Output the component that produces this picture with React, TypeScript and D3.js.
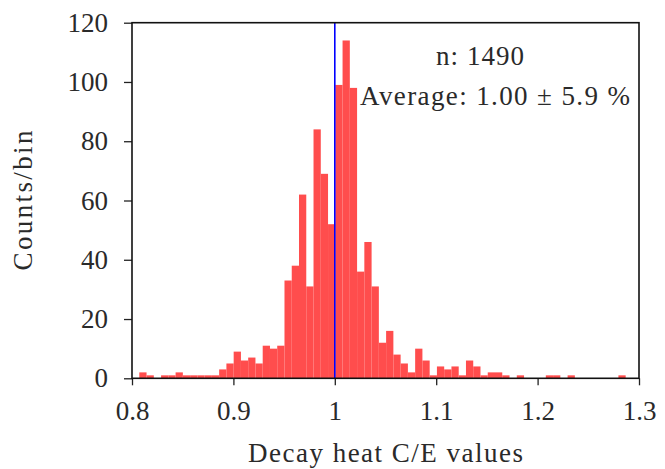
import React, { useEffect, useRef } from 'react'
import * as d3 from 'd3'

// histogram of C/E values
const binStart = 0.8072
const binWidth = 0.007159
const binCounts = [
  2, 1, 0, 1, 1, 2, 1, 1, 1, 1, 1,
  3, 5, 9, 6, 7, 5, 11, 10, 11,
  33, 38, 62, 31, 84, 69, 52, 99, 114, 98,
  36, 46, 31, 12, 16, 8, 5, 2, 10, 6,
  1, 4, 3, 4, 1, 6, 4, 1, 2, 2, 1,
  0, 1, 0, 0, 0, 1, 1, 0, 1, 0, 0, 0, 0, 0, 0, 1,
]
const xTicks = [0.8, 0.9, 1.0, 1.1, 1.2, 1.3]
const yTicks = [0, 20, 40, 60, 80, 100, 120]
const meanValue = 1.0
const annotation = ['n: 1490', 'Average: 1.00 ± 5.9 %']

const W = 665
const H = 469
const FONT = '"Liberation Serif", "Times New Roman", serif'

export default function App() {
  const svgRef = useRef<SVGSVGElement | null>(null)

  useEffect(() => {
    if (!svgRef.current) return
    const margin = { top: 22.7, right: 26, bottom: 90.7, left: 132 }
    const width = W - margin.left - margin.right
    const height = H - margin.top - margin.bottom

    const root = d3.select(svgRef.current)
    root.selectAll('*').remove()
    const svg = root.append('g').attr('transform', `translate(${margin.left},${margin.top})`)

    const bins = binCounts.map((c, i) => ({
      x0: binStart + i * binWidth,
      x1: binStart + (i + 1) * binWidth,
      count: c,
    }))

    const x = d3.scaleLinear().domain([0.8, 1.3]).range([0, width])
    const y = d3.scaleLinear().domain([0, 120]).range([height, 0])

    svg
      .selectAll('.bar')
      .data(bins.filter(d => d.count > 0))
      .enter()
      .append('rect')
      .attr('class', 'bar')
      .attr('x', d => x(d.x0))
      .attr('width', d => x(d.x1) - x(d.x0))
      .attr('y', d => y(d.count))
      .attr('height', d => height - y(d.count))
      .style('fill', '#ff4d4d')

    // mean line
    svg
      .append('line')
      .attr('x1', x(meanValue))
      .attr('x2', x(meanValue))
      .attr('y1', 0)
      .attr('y2', height)
      .attr('stroke', '#0000ff')
      .attr('stroke-width', 1.6)

    const xAxis = svg
      .append('g')
      .attr('transform', `translate(0,${height})`)
      .call(
        d3.axisBottom(x)
          .tickValues(xTicks)
          .tickSize(7)
          .tickSizeOuter(0)
          .tickPadding(16)
          .tickFormat(d => d3.format('.1~f')(d as number))
      )
    const yAxis = svg
      .append('g')
      .call(d3.axisLeft(y).tickValues(yTicks).tickSize(8).tickSizeOuter(0).tickPadding(16))

    for (const ax of [xAxis, yAxis]) {
      ax.select('.domain').remove()
      ax.selectAll('line').attr('stroke', '#222').attr('stroke-width', 1.3)
      ax.selectAll('text')
        .attr('fill', '#2a2a2a')
        .style('font-family', FONT)
        .style('font-size', '27px')
    }

    // frame
    svg
      .append('rect')
      .attr('width', width)
      .attr('height', height)
      .attr('fill', 'none')
      .attr('stroke', '#111')
      .attr('stroke-width', 1.6)

    svg
      .append('text')
      .attr('x', 304)
      .attr('y', 42.3)
      .attr('textLength', 88)
      .attr('lengthAdjust', 'spacing')
      .attr('fill', '#2a2a2a')
      .style('font-family', FONT)
      .style('font-size', '27px')
      .text(annotation[0])
    svg
      .append('text')
      .attr('x', 228)
      .attr('y', 82.3)
      .attr('textLength', 270)
      .attr('lengthAdjust', 'spacing')
      .attr('fill', '#2a2a2a')
      .style('font-family', FONT)
      .style('font-size', '27px')
      .text(annotation[1])

    // axis titles
    svg
      .append('text')
      .attr('x', width / 2 - 137.5)
      .attr('y', height + 84)
      .attr('textLength', 275)
      .attr('lengthAdjust', 'spacing')
      .attr('fill', '#2a2a2a')
      .style('font-family', FONT)
      .style('font-size', '27px')
      .text('Decay heat C/E values')
    svg
      .append('text')
      .attr('transform', `translate(${32 - margin.left},${height / 2 + 70}) rotate(-90)`)
      .attr('textLength', 140)
      .attr('lengthAdjust', 'spacing')
      .attr('fill', '#2a2a2a')
      .style('font-family', FONT)
      .style('font-size', '27px')
      .text('Counts/bin')
  }, [])

  return (
    <svg
      ref={svgRef}
      width={W}
      height={H}
      style={{ position: 'absolute', left: 0, top: 0, background: '#fff' }}
    />
  )
}
